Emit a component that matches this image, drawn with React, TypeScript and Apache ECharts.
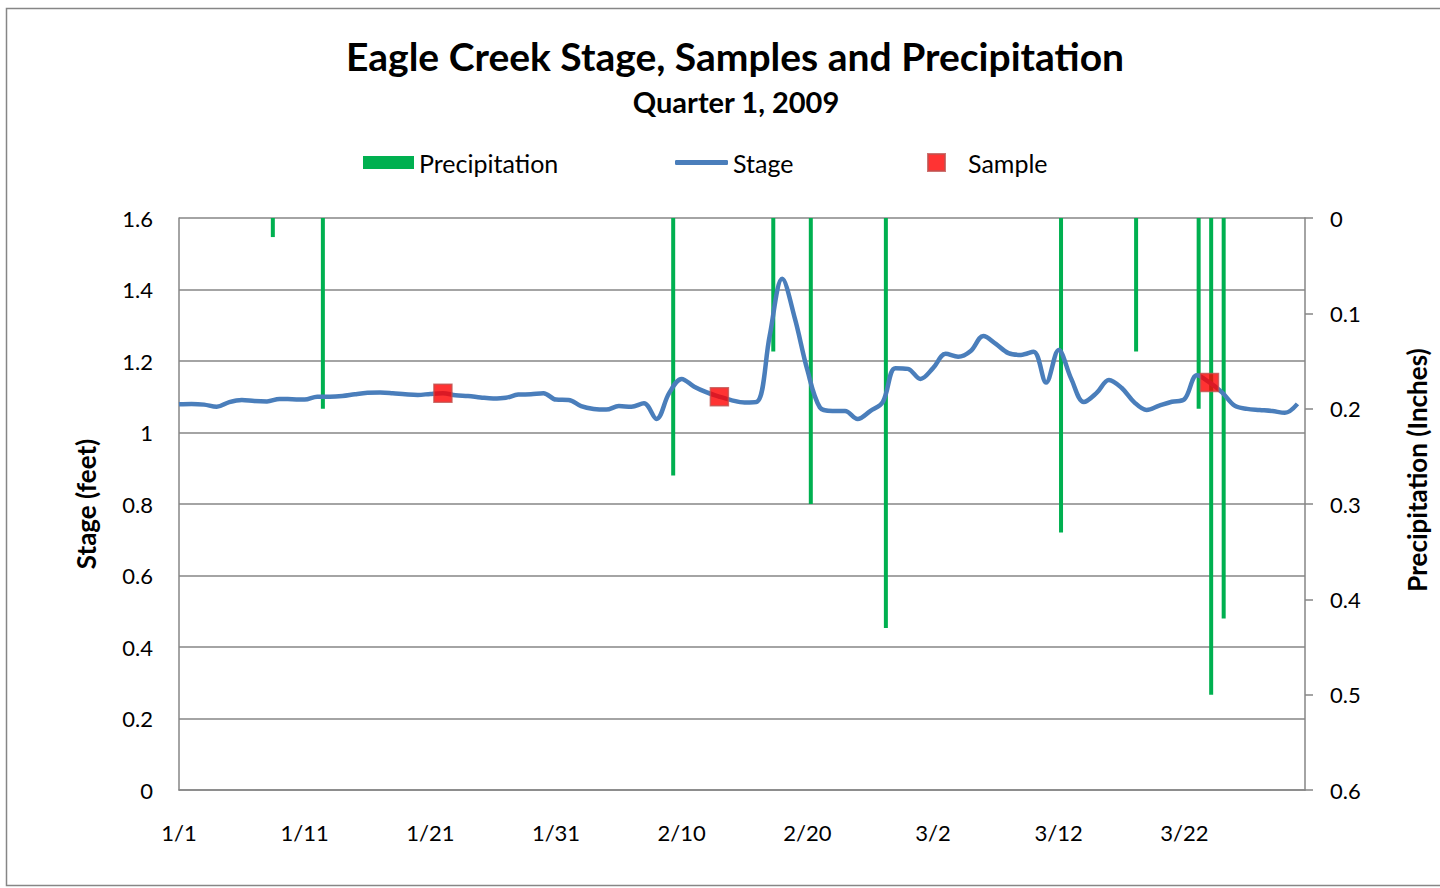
import React, { useEffect, useRef } from "react";
import * as echarts from "echarts";

// Days of Quarter 1, 2009 (category labels, M/D)
const monthLengths = [31, 28, 31];
const days: string[] = [];
monthLengths.forEach((len, m) => {
  for (let d = 1; d <= len; d++) days.push(`${m + 1}/${d}`);
});

// Daily stage (feet), 1/1 .. 3/31
const stageFeet = [
  1.079, 1.08, 1.078, 1.072, 1.085, 1.091, 1.088, 1.087, 1.094, 1.093,
  1.092, 1.1, 1.1, 1.102, 1.107, 1.111, 1.112, 1.11, 1.107, 1.105,
  1.108, 1.11, 1.104, 1.102, 1.098, 1.095, 1.097, 1.106, 1.107, 1.11,
  1.092, 1.091, 1.074, 1.066, 1.064, 1.074, 1.072, 1.082, 1.038, 1.11,
  1.15, 1.128, 1.112, 1.1, 1.09, 1.084, 1.086, 1.27, 1.43, 1.32,
  1.175, 1.07, 1.06, 1.06, 1.038, 1.06, 1.085, 1.18, 1.178, 1.15,
  1.18, 1.22, 1.212, 1.228, 1.27, 1.248, 1.222, 1.217, 1.226, 1.14,
  1.231, 1.15, 1.085, 1.11, 1.147, 1.125, 1.085, 1.063, 1.075, 1.086,
  1.093, 1.16, 1.14, 1.112, 1.075, 1.066, 1.063, 1.06, 1.055, 1.08,
];

// Precipitation (inches)
const precipDates = ["1/8", "1/12", "2/9", "2/17", "2/20", "2/26", "3/12", "3/18", "3/23", "3/24", "3/25"];
const precipInches = [0.02, 0.2, 0.27, 0.14, 0.3, 0.43, 0.33, 0.14, 0.2, 0.5, 0.42];

// Samples (feet)
const sampleDates = ["1/22", "2/13", "3/24"];
const sampleFeet = [1.11, 1.1, 1.14];

// Axis ticks
const stageTicks = { min: 0, max: 1.6, interval: 0.2 };
const precipTicks = { min: 0, max: 0.6, interval: 0.1 };
const dateTickStep = 10;

const FONT = "Lato";
const GRID_COLOR = "#868686";

export default function App() {
  const ref = useRef<HTMLDivElement>(null);

  useEffect(() => {
    if (!ref.current) return;
    const chart = echarts.init(ref.current, undefined, { renderer: "svg" });

    const precipByDay: (number | string)[] = days.map(() => "-");
    precipDates.forEach((d, i) => {
      precipByDay[days.indexOf(d)] = precipInches[i];
    });
    const stageData = stageFeet.map((v, i) => [i, v]);
    const sampleData = sampleDates.map((d, i) => [days.indexOf(d), sampleFeet[i]]);

    const legendText = { fontFamily: FONT, fontSize: 25, color: "#000" };

    chart.setOption({
      animation: false,
      backgroundColor: "#fff",
      textStyle: { fontFamily: FONT },
      graphic: [
        {
          type: "rect",
          shape: { x: 6.5, y: 8.5, width: 1440, height: 877 },
          style: { fill: "none", stroke: GRID_COLOR, lineWidth: 1.5 },
          silent: true,
        },
        {
          type: "text",
          x: 735,
          y: 56,
          style: {
            text: "Eagle Creek Stage, Samples and Precipitation",
            font: `bold 39px ${FONT}`,
            fill: "#000",
            textAlign: "center",
            textVerticalAlign: "middle",
          },
        },
        {
          type: "text",
          x: 736,
          y: 101,
          style: {
            text: "Quarter 1, 2009",
            font: `bold 29px ${FONT}`,
            fill: "#000",
            textAlign: "center",
            textVerticalAlign: "middle",
          },
        },
        {
          type: "text",
          x: 86,
          y: 504,
          rotation: Math.PI / 2,
          style: {
            text: "Stage (feet)",
            font: `bold 26px ${FONT}`,
            fill: "#000",
            textAlign: "center",
            textVerticalAlign: "middle",
          },
        },
        {
          type: "text",
          x: 1417,
          y: 470,
          rotation: Math.PI / 2,
          style: {
            text: "Precipitation (Inches)",
            font: `bold 26px ${FONT}`,
            fill: "#000",
            textAlign: "center",
            textVerticalAlign: "middle",
          },
        },
      ],
      legend: [
        {
          data: ["Precipitation"],
          left: 363,
          top: 150,
          padding: 0,
          icon: "rect",
          itemWidth: 51,
          itemHeight: 13,
          textStyle: legendText,
        },
        {
          data: ["Stage"],
          left: 675,
          top: 150,
          padding: 0,
          icon: "roundRect",
          itemWidth: 53,
          itemHeight: 5,
          textStyle: legendText,
        },
        {
          data: ["Sample"],
          left: 927,
          top: 150,
          padding: 0,
          icon: "rect",
          itemWidth: 17,
          itemHeight: 17,
          textStyle: { ...legendText, padding: [0, 0, 0, 18] },
        },
      ],
      grid: { left: 179, right: 135, top: 218, bottom: 98, containLabel: false },
      xAxis: [
        {
          type: "value",
          min: 0,
          max: 89.6,
          interval: dateTickStep,
          axisLine: { show: true, lineStyle: { color: GRID_COLOR, width: 1.5 } },
          axisTick: { show: false },
          splitLine: { show: false },
          axisLabel: {
            margin: 31,
            fontFamily: FONT,
            fontSize: 22,
            color: "#000",
            showMaxLabel: false,
            formatter: (v: number) =>
              Math.abs(v % dateTickStep) < 1e-6 ? days[Math.round(v)] : "",
          },
        },
        {
          type: "category",
          data: days,
          boundaryGap: true,
          show: false,
        },
      ],
      yAxis: [
        {
          type: "value",
          position: "left",
          ...stageTicks,
          axisLine: { show: true, lineStyle: { color: GRID_COLOR, width: 1.5 } },
          axisTick: { show: false },
          splitLine: { show: true, lineStyle: { color: GRID_COLOR, width: 1.5 } },
          axisLabel: { margin: 26, fontFamily: FONT, fontSize: 22, color: "#000" },
        },
        {
          type: "value",
          position: "right",
          inverse: true,
          ...precipTicks,
          axisLine: { show: true, lineStyle: { color: GRID_COLOR, width: 1.5 } },
          axisTick: { show: true, inside: false, length: 8, lineStyle: { color: GRID_COLOR, width: 1.5 } },
          splitLine: { show: false },
          axisLabel: { margin: 25, fontFamily: FONT, fontSize: 22, color: "#000" },
        },
      ],
      series: [
        {
          name: "Precipitation",
          type: "bar",
          xAxisIndex: 1,
          yAxisIndex: 1,
          data: precipByDay,
          barWidth: 4,
          itemStyle: { color: "#00b050" },
          z: 2,
        },
        {
          name: "Stage",
          type: "line",
          xAxisIndex: 0,
          yAxisIndex: 0,
          data: stageData,
          smooth: 0.35,
          symbol: "none",
          lineStyle: { color: "#4a7ebb", width: 4.5 },
          itemStyle: { color: "#4a7ebb" },
          z: 3,
        },
        {
          name: "Sample",
          type: "scatter",
          xAxisIndex: 0,
          yAxisIndex: 0,
          data: sampleData,
          symbol: "rect",
          symbolSize: 18,
          itemStyle: { color: "#ff0000", borderColor: "#c0504d", borderWidth: 1.5 },
          z: 4,
        },
      ],
    });

    return () => chart.dispose();
  }, []);

  return (
    <div
      ref={ref}
      style={{ position: "absolute", left: 0, top: 0, width: 1440, height: 888 }}
    />
  );
}
